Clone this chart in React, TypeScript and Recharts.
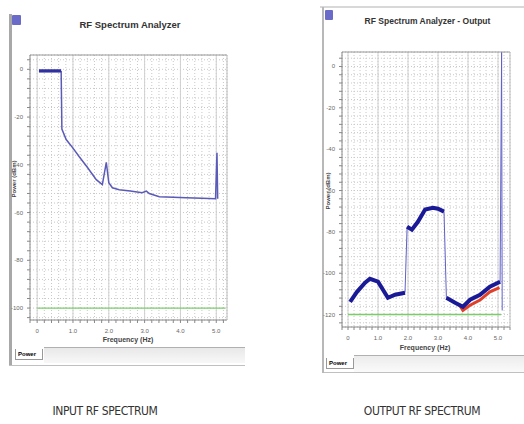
import { LineChart, Line, XAxis, YAxis, CartesianGrid, ReferenceLine } from "recharts";

// input spectrum (left)
const freqIn = [0.05, 0.67, 0.69, 0.81, 1.0, 1.17, 1.4, 1.65, 1.82, 1.93, 2.0, 2.1, 2.29, 2.6, 2.93, 3.05, 3.13, 3.41, 3.8, 4.16, 4.6, 4.98, 5.02, 5.04];
const powerIn = [-1, -1, -25, -29.4, -33, -36.5, -41, -46.2, -48.3, -39, -47.5, -49.6, -50.4, -51, -51.7, -51, -52, -53.4, -53.6, -53.8, -54, -54.2, -35, -54.2];
const plateauFreqIn = [0.05, 0.67];
const plateauPowerIn = [-0.6, -0.6];
const floorFreqIn = [0, 5.25];
const floorPowerIn = [-100, -100];

// output spectrum (right)
const freqOut = [0.07, 0.3, 0.57, 0.73, 1.0, 1.33, 1.57, 1.9, 1.97, 2.13, 2.33, 2.57, 2.83, 3.0, 3.2, 3.28, 3.57, 3.83, 4.07, 4.4, 4.73, 5.07, 5.12, 5.14];
const powerOut = [-113.8, -109, -104.6, -102.7, -104.1, -111.9, -110.4, -109.4, -77.5, -78.9, -75.1, -69.2, -68.3, -68.8, -70.2, -111.9, -114.3, -116.2, -112.8, -110.4, -106.5, -104.1, 7, -118];
const thickBreaksOut = [7, 14]; // thick trace ends at these indices
const freqRed = [3.7, 3.83, 4.07, 4.4, 4.73, 5.05];
const powerRed = [-115, -118, -115.5, -113, -109, -107];
const floorFreqOut = [0, 5.1];
const floorPowerOut = [-120, -120];

const xMajors = [0, 1, 2, 3, 4, 5];
const xLabels = ["0", "1.0", "2.0", "3.0", "4.0", "5.0"];
const yMajorsIn = [0, -20, -40, -60, -80, -100];
const yMajorsOut = [0, -20, -40, -60, -80, -100, -120];

const range = (a: number, b: number, s: number) => {
  const r: number[] = [];
  for (let v = a; v <= b + 1e-9; v += s) r.push(Math.round(v * 100) / 100);
  return r;
};

const pts = (xs: number[], ys: number[]) => xs.map((f, i) => ({ f, p: ys[i] }));

const thickOut = (() => {
  const rows: { f: number; p: number | null }[] = [];
  freqOut.forEach((f, i) => {
    if (i > 21) return;
    rows.push({ f, p: powerOut[i] });
    if (thickBreaksOut.includes(i)) rows.push({ f: f + 0.01, p: null });
  });
  return rows;
})();

const font = "'Liberation Sans', Arial, sans-serif";
const captionFont = "'DejaVu Sans Condensed', 'Liberation Sans Narrow', sans-serif";

const XTick = ({ x, y, payload }: any) => {
  const i = xMajors.findIndex(m => Math.abs(m - payload.value) < 1e-6);
  if (i < 0) return <g />;
  return <text x={x} y={y + 8} textAnchor="middle" fontSize={6} fill="#666" fontFamily={font}>{xLabels[i]}</text>;
};

const makeYTick = (majors: number[]) => ({ x, y, payload }: any) =>
  majors.includes(payload.value)
    ? <text x={x - 2} y={y + 2} textAnchor="end" fontSize={6} fill="#666" fontFamily={font}>{payload.value}</text>
    : <g />;

function Panel(props: {
  left: number; top: number; width: number; height: number;
  margin: any; yWidth: number; xDomain: number[]; yDomain: number[];
  yMajors: number[]; children: any; xMax: number;
}) {
  const { left, top, width, height, margin, yWidth, xDomain, yDomain, yMajors, xMax } = props;
  return (
    <div style={{ position: "absolute", left, top }}>
      <LineChart width={width} height={height} margin={margin}>
        <CartesianGrid stroke="#c8c8c8" strokeDasharray="1 2" />
        <XAxis xAxisId={0} type="number" dataKey="f" domain={xDomain} ticks={range(-0.2, xMax, 0.2)} allowDataOverflow
          tick={<XTick />} tickSize={3} height={18} stroke="#888" interval={0} />
        <XAxis xAxisId="top" orientation="top" type="number" dataKey="f" domain={xDomain} ticks={range(-0.2, xMax, 0.1)} allowDataOverflow
          tick={false} tickSize={4} height={4} stroke="#999" />
        <YAxis yAxisId={0} type="number" dataKey="p" domain={yDomain} ticks={range(yDomain[0] < -120 ? -124 : -104, 4, 4)} allowDataOverflow
          tick={makeYTick(yMajors)} tickSize={3} width={yWidth} stroke="#888" interval={0} />
        <YAxis yAxisId="right" orientation="right" type="number" domain={yDomain} tick={false} width={1} stroke="#bbb" />
        {xMajors.map(m => <ReferenceLine key={m} x={m} stroke="#d0d0d0" />)}
        {props.children}
      </LineChart>
    </div>
  );
}

export default function App() {
  return (
    <div style={{ position: "absolute", left: 0, top: 0, width: 524, height: 424, background: "#fff", overflow: "hidden", fontFamily: font }}>
      {/* left window frame */}
      <div style={{ position: "absolute", left: 9, top: 14, width: 3, height: 352, background: "#a8a8a8" }} />
      <div style={{ position: "absolute", left: 12, top: 15, width: 9, height: 10, background: "#6a6ac8", borderRadius: 1 }} />
      <div style={{ position: "absolute", left: 9, top: 365, width: 236, height: 1, background: "#c0c0c0" }} />
      <div style={{ position: "absolute", left: 44, top: 347, width: 201, height: 15, background: "linear-gradient(#e8e8e8,#f8f8f8)", borderTop: "1px solid #b0b0b0" }} />
      <div style={{ position: "absolute", left: 15, top: 349, width: 28, height: 11, border: "1px solid #999", borderTop: "none", background: "#fff", fontSize: 6, fontWeight: 700, lineHeight: "11px", paddingLeft: 2, boxSizing: "border-box" }}>Power</div>
      <div style={{ position: "absolute", left: 30, top: 19, width: 200, textAlign: "center", fontSize: 9.5, fontWeight: 700, color: "#333" }}>RF Spectrum Analyzer</div>
      <div style={{ position: "absolute", left: 78, top: 336, width: 100, textAlign: "center", fontSize: 7, fontWeight: 700, color: "#444" }}>Frequency (Hz)</div>
      <div style={{ position: "absolute", left: -16, top: 176, width: 60, textAlign: "center", fontSize: 6, fontWeight: 700, color: "#444", transform: "rotate(-90deg)" }}>Power (dBm)</div>

      <Panel left={0} top={0} width={250} height={370} margin={{ top: 51, left: 12, right: 22, bottom: 32 }} yWidth={18}
        xDomain={[-0.2, 5.3]} yDomain={[-105, 6]} yMajors={yMajorsIn} xMax={5.3}>
        <Line data={pts(floorFreqIn, floorPowerIn)} dataKey="p" stroke="#7ccc6c" strokeWidth={1.2} dot={false} isAnimationActive={false} />
        <Line data={pts(freqIn, powerIn)} dataKey="p" stroke="#5a5ab8" strokeWidth={1.5} dot={false} isAnimationActive={false} />
        <Line data={pts(plateauFreqIn, plateauPowerIn)} dataKey="p" stroke="#3030a0" strokeWidth={3} dot={false} isAnimationActive={false} />
      </Panel>

      {/* right window frame */}
      <div style={{ position: "absolute", left: 320, top: 6, width: 204, height: 2, background: "#d8d8d8" }} />
      <div style={{ position: "absolute", left: 322, top: 7, width: 2, height: 366, background: "#b8b8b8" }} />
      <div style={{ position: "absolute", left: 325, top: 10, width: 8, height: 10, background: "#6a6ac8", borderRadius: 1 }} />
      <div style={{ position: "absolute", left: 324, top: 372, width: 200, height: 1, background: "#c0c0c0" }} />
      <div style={{ position: "absolute", left: 354, top: 355, width: 170, height: 16, background: "linear-gradient(#ececec,#fafafa)", borderTop: "1px solid #b0b0b0" }} />
      <div style={{ position: "absolute", left: 326, top: 358, width: 28, height: 11, border: "1px solid #999", borderTop: "none", background: "#fff", fontSize: 6, fontWeight: 700, lineHeight: "11px", paddingLeft: 2, boxSizing: "border-box" }}>Power</div>
      <div style={{ position: "absolute", left: 330, top: 16, width: 195, textAlign: "center", fontSize: 8.5, fontWeight: 700, color: "#333" }}>RF Spectrum Analyzer - Output</div>
      <div style={{ position: "absolute", left: 375, top: 344, width: 100, textAlign: "center", fontSize: 7, fontWeight: 700, color: "#444" }}>Frequency (Hz)</div>
      <div style={{ position: "absolute", left: 298, top: 188, width: 60, textAlign: "center", fontSize: 6, fontWeight: 700, color: "#444", transform: "rotate(-90deg)" }}>Power (dBm)</div>

      <Panel left={320} top={0} width={204} height={380} margin={{ top: 48, left: 8, right: 13, bottom: 35 }} yWidth={14}
        xDomain={[-0.2, 5.4]} yDomain={[-126, 7]} yMajors={yMajorsOut} xMax={5.4}>
        <Line data={pts(floorFreqOut, floorPowerOut)} dataKey="p" stroke="#7ccc6c" strokeWidth={1.5} dot={false} isAnimationActive={false} />
        <Line data={pts(freqOut, powerOut)} dataKey="p" stroke="#6060c8" strokeWidth={1} dot={false} isAnimationActive={false} />
        <Line data={pts(freqRed, powerRed)} dataKey="p" stroke="#e0402a" strokeWidth={3} dot={false} isAnimationActive={false} />
        <Line data={thickOut} dataKey="p" stroke="#1a1a96" strokeWidth={4} dot={false} connectNulls={false} isAnimationActive={false} />
      </Panel>

      {/* captions */}
      <div style={{ position: "absolute", left: 20, top: 404, width: 170, textAlign: "center", fontSize: 12, letterSpacing: -0.4, color: "#333", fontFamily: captionFont }}>INPUT RF SPECTRUM</div>
      <div style={{ position: "absolute", left: 337, top: 404, width: 170, textAlign: "center", fontSize: 12, letterSpacing: -0.4, color: "#333", fontFamily: captionFont }}>OUTPUT RF SPECTRUM</div>
    </div>
  );
}
